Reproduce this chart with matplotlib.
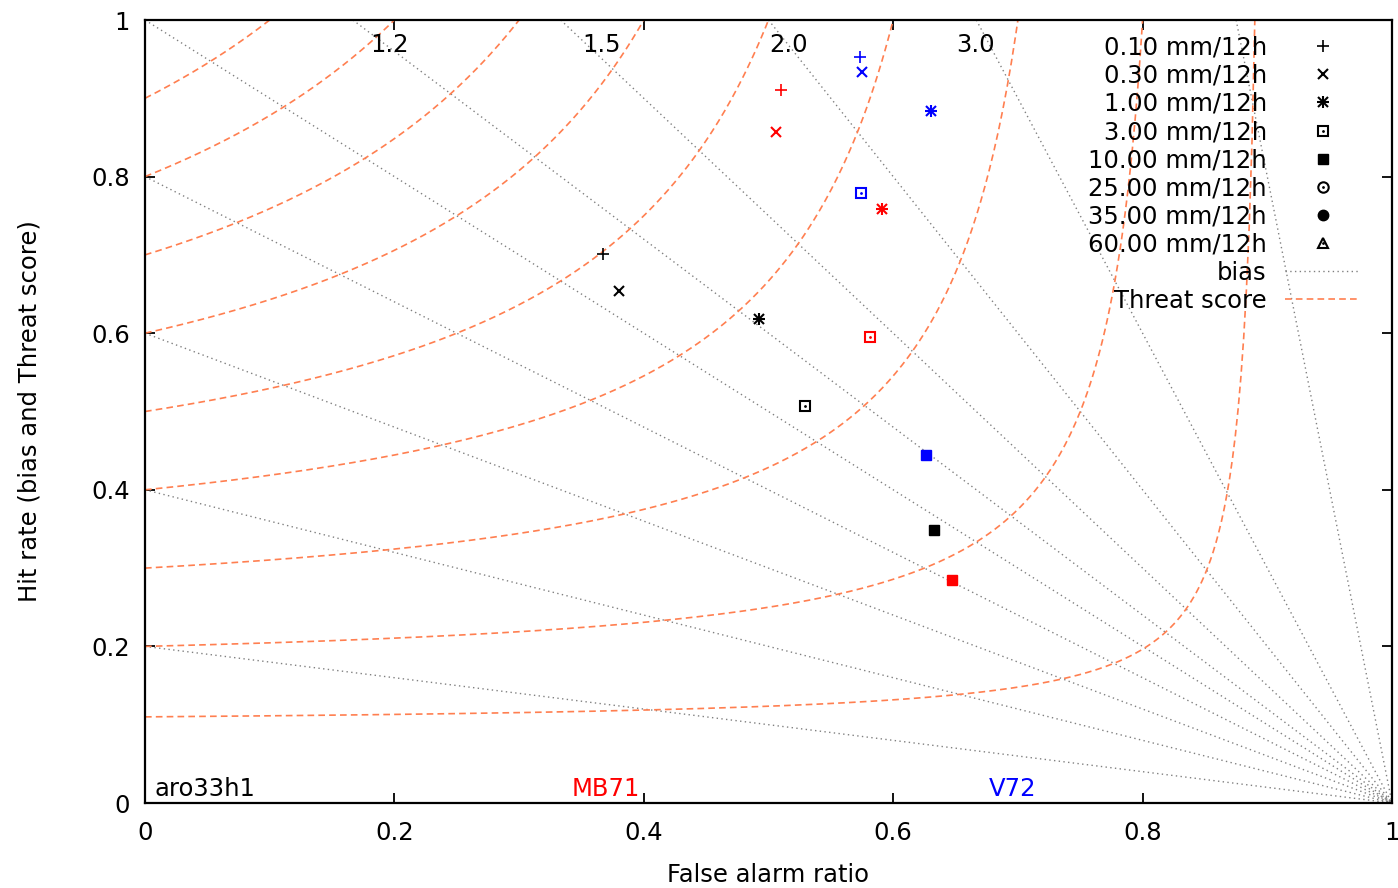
import matplotlib
matplotlib.use("Agg")
import matplotlib.pyplot as plt
from matplotlib.lines import Line2D
from matplotlib.legend_handler import HandlerTuple
import numpy as np

plt.rcParams['font.family'] = ['DejaVu Sans']

# verification scores per threshold (0.1, 0.3, 1, 3, 10 mm/12h)
far_aro = [0.367, 0.380, 0.492, 0.529, 0.633]
hit_aro = [0.701, 0.654, 0.618, 0.507, 0.349]
far_mb = [0.510, 0.506, 0.591, 0.581, 0.647]
hit_mb = [0.911, 0.857, 0.759, 0.595, 0.285]
far_v72 = [0.573, 0.575, 0.630, 0.574, 0.626]
hit_v72 = [0.953, 0.933, 0.884, 0.779, 0.444]

models = ['aro33h1', 'MB71', 'V72']
model_colors = ['black', 'red', 'blue']
thresholds = [0.10, 0.30, 1.00, 3.00, 10.00, 25.00, 35.00, 60.00]

bias_levels = [0.2, 0.4, 0.6, 0.8, 1.0, 1.2, 1.5, 2.0, 3.0, 8.0]
bias_labelled = [1.2, 1.5, 2.0, 3.0]
bias_label_x = [0.196, 0.366, 0.516, 0.666]
ts_levels = [0.11, 0.2, 0.3, 0.4, 0.5, 0.6, 0.7, 0.8, 0.9]

ts_color = '#ff7f50'
bias_color = '#808080'
fs = 17.5

fig = plt.figure(figsize=(13.98, 8.88), dpi=100)
ax = fig.add_axes([145/1398, 1 - 803/888, 1247/1398, 783/888])

# bias lines: H = B * (1 - F)
for b in bias_levels:
    f = np.linspace(max(0.0, 1 - 1/b), 1, 200)
    ax.plot(f, b*(1 - f), color=bias_color, lw=1.0, dashes=(1, 2.4))

# threat score curves: 1/TS = 1/(1-F) + 1/H - 1
for ts in ts_levels:
    f = np.linspace(0, 1 - ts, 400)
    h = 1.0/(1.0/ts + 1 - 1.0/(1 - f))
    ax.plot(f, h, color=ts_color, lw=1.2, dashes=(4, 2.5))

for b, xl in zip(bias_labelled, bias_label_x):
    ax.text(xl, 0.968, f"{b:.1f}", fontsize=fs, ha='center', va='center')


def draw_points(ax, far, hit, color):
    ms = 8.5
    # +, x, *, open square, filled square
    ax.plot(far[0], hit[0], '+', color=color, ms=ms, mew=1.2)
    ax.plot(far[1], hit[1], 'x', color=color, ms=ms*0.85, mew=1.5)
    ax.plot(far[2], hit[2], '+', color=color, ms=ms, mew=1.5)
    ax.plot(far[2], hit[2], 'x', color=color, ms=ms*0.85, mew=1.5)
    ax.plot(far[3], hit[3], 's', mfc='none', mec=color, ms=ms*0.85, mew=1.5)
    ax.plot(far[3], hit[3], '.', color=color, ms=2)
    ax.plot(far[4], hit[4], 's', color=color, ms=ms*0.85)


for (far, hit), c in zip([(far_aro, hit_aro), (far_mb, hit_mb), (far_v72, hit_v72)], model_colors):
    draw_points(ax, far, hit, c)

for name, c, xpos in zip(models, model_colors, [0.008, 0.342, 0.677]):
    ax.text(xpos, 0.018, name, color=c, fontsize=fs, ha='left', va='center')

# legend
k = 'black'
dot = Line2D([], [], ls='none', marker='.', color=k, ms=2)
handles = [
    Line2D([], [], ls='none', marker='+', color=k, ms=9, mew=1.2),
    Line2D([], [], ls='none', marker='x', color=k, ms=7.5, mew=1.5),
    (Line2D([], [], ls='none', marker='+', color=k, ms=9, mew=1.5),
     Line2D([], [], ls='none', marker='x', color=k, ms=7.5, mew=1.5)),
    (Line2D([], [], ls='none', marker='s', mfc='none', mec=k, ms=7.5, mew=1.5), dot),
    Line2D([], [], ls='none', marker='s', color=k, ms=7.5),
    (Line2D([], [], ls='none', marker='o', mfc='none', mec=k, ms=7.5, mew=1.5), dot),
    Line2D([], [], ls='none', marker='o', color=k, ms=7.5),
    (Line2D([], [], ls='none', marker='^', mfc='none', mec=k, ms=7.5, mew=1.5), dot),
    Line2D([], [], color=bias_color, lw=1.0, dashes=(1, 2.4)),
    Line2D([], [], color=ts_color, lw=1.2, dashes=(4, 2.5)),
]
labels = [f"{t:.2f} mm/12h" for t in thresholds] + ['bias', 'Threat score']
ax.legend(handles, labels, loc='upper right', bbox_to_anchor=(0.9745, 0.980),
          frameon=False, markerfirst=False, fontsize=fs, handlelength=3.1,
          handletextpad=0.75, labelspacing=0.17, borderpad=0, borderaxespad=0,
          handler_map={tuple: HandlerTuple(ndivide=1)})

ax.set_xlim(0, 1)
ax.set_ylim(0, 1)
ax.set_xticks([0, 0.2, 0.4, 0.6, 0.8, 1])
ax.set_yticks([0, 0.2, 0.4, 0.6, 0.8, 1])
ax.set_xticklabels(['0', '0.2', '0.4', '0.6', '0.8', '1'])
ax.set_yticklabels(['0', '0.2', '0.4', '0.6', '0.8', '1'])
ax.tick_params(direction='in', length=7, width=1.3, top=True, right=True,
               labelsize=fs, pad=11)
ax.tick_params(axis='x', pad=13)
for s in ax.spines.values():
    s.set_linewidth(1.6)

ax.set_xlabel('False alarm ratio', fontsize=fs)
ax.set_ylabel('Hit rate (bias and Threat score)', fontsize=fs)
ax.xaxis.set_label_coords(0.5, -0.077)
ax.yaxis.set_label_coords(-0.083, 0.5)

fig.savefig('out.png', dpi=100)
